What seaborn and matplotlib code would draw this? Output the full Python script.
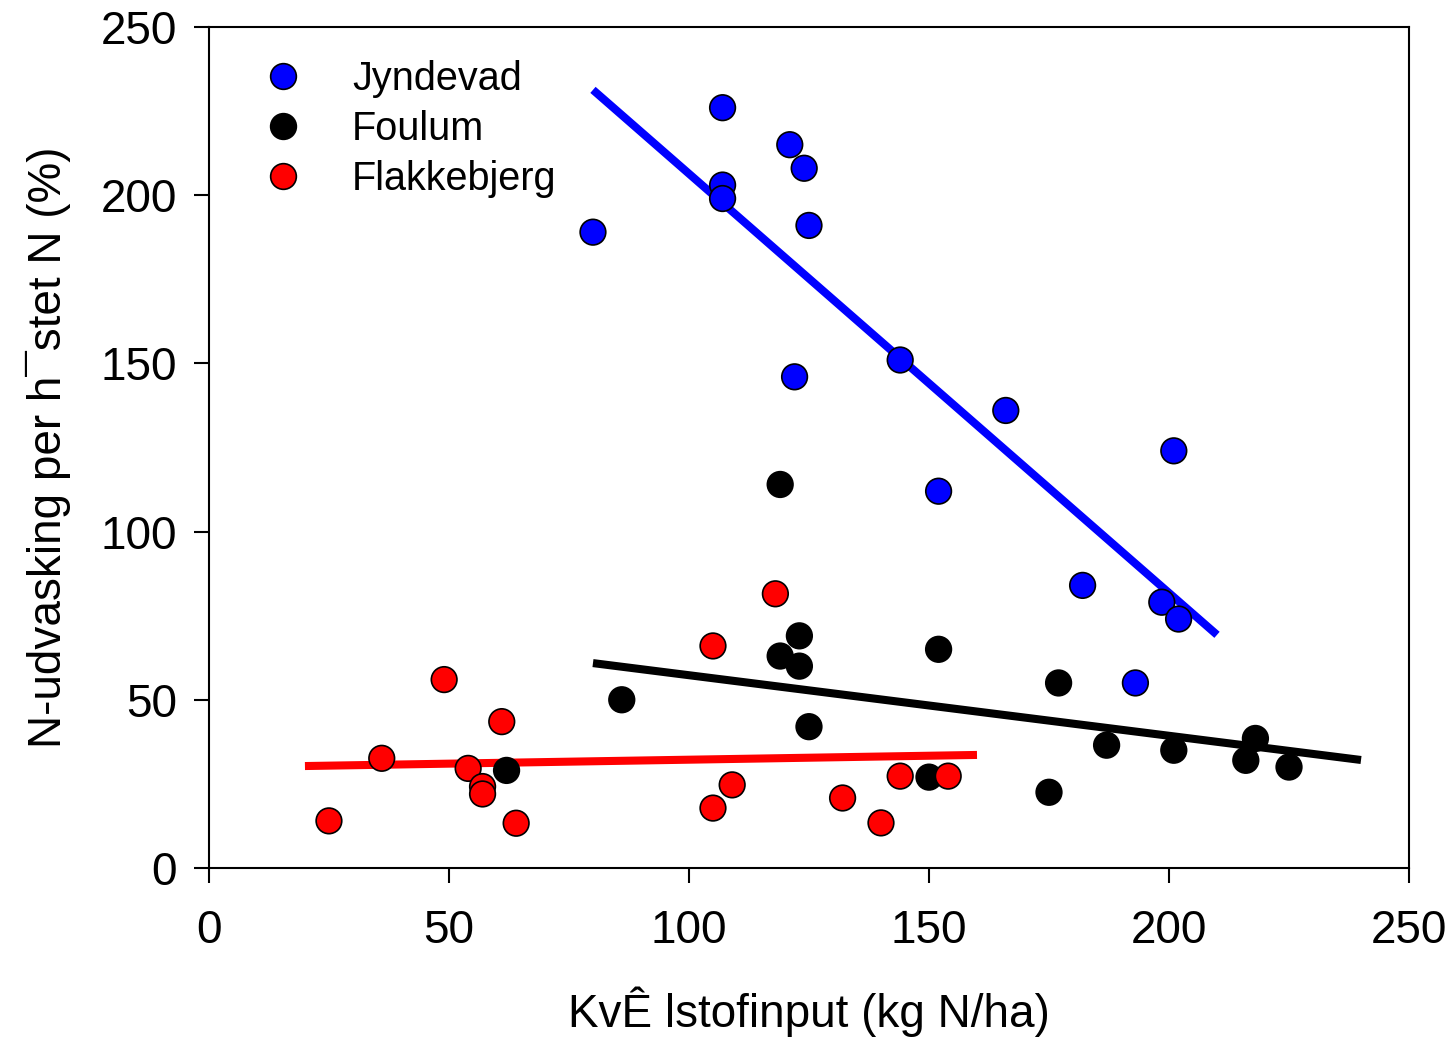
import numpy as np
import pandas as pd
import matplotlib
matplotlib.use("Agg")
import matplotlib.pyplot as plt
import seaborn as sns
from matplotlib.lines import Line2D

# data
sites = ["Jyndevad", "Foulum", "Flakkebjerg"]
site_colors = ["#0000ff", "#000000", "#ff0000"]

jyndevad_x = [80, 107, 107, 107, 121, 124, 125, 122, 144, 166, 152, 201, 182, 198.5, 202, 193]
jyndevad_y = [189, 226, 203, 199, 215, 208, 191, 146, 151, 136, 112, 124, 84, 79, 74, 55]

foulum_x = [119, 119, 123, 123, 125, 86, 62, 152, 150, 175, 177, 187, 201, 218, 216, 225]
foulum_y = [114, 63, 69, 60, 42, 50, 29, 65, 27, 22.5, 55, 36.5, 35, 38.5, 32, 30]

flakke_x = [118, 105, 109, 105, 132, 140, 144, 154, 49, 61, 36, 54, 57, 57, 25, 64]
flakke_y = [81.5, 66, 24.7, 17.8, 20.8, 13.4, 27.3, 27.3, 56, 43.5, 32.6, 29.6, 24.2, 22, 14, 13.3]

# regression lines (start/end)
line_x = [[80, 210], [80, 240], [20, 160]]
line_y = [[231.3, 69.3], [60.9, 32.1], [30.3, 33.6]]

xs = [jyndevad_x, foulum_x, flakke_x]
ys = [jyndevad_y, foulum_y, flakke_y]
df = pd.concat([pd.DataFrame({"x": x, "y": y, "site": s}) for x, y, s in zip(xs, ys, sites)],
               ignore_index=True)
lines = pd.concat([pd.DataFrame({"x": lx, "y": ly, "site": s}) for lx, ly, s in zip(line_x, line_y, sites)],
                  ignore_index=True)

sns.set_style("white")
plt.rcParams["font.family"] = ["Liberation Sans", "DejaVu Sans"]
plt.rcParams["text.color"] = "black"
plt.rcParams["axes.labelcolor"] = "black"
plt.rcParams["xtick.color"] = "black"
plt.rcParams["ytick.color"] = "black"

fig = plt.figure(figsize=(14.55, 10.37), dpi=100)
ax = fig.add_axes([0.1436, 0.163, 0.8248, 0.811])

palette = dict(zip(sites, site_colors))
sns.lineplot(data=lines, x="x", y="y", hue="site", palette=palette, linewidth=5.8,
             legend=False, ax=ax, zorder=2, solid_capstyle="butt")
sns.scatterplot(data=df, x="x", y="y", hue="site", palette=palette, s=340,
                edgecolor="black", linewidth=1.2, legend=False, ax=ax, zorder=3)

ax.set_xlim(0, 250)
ax.set_ylim(0, 250)
ax.set_xticks(np.arange(0, 251, 50))
ax.set_yticks(np.arange(0, 251, 50))
ax.tick_params(axis="both", which="major", labelsize=33, direction="out", length=11,
               width=1.5, top=False, right=False, bottom=True, left=True, pad=12)
ax.tick_params(axis="x", pad=18.5)
for sp in ax.spines.values():
    sp.set_linewidth(1.5)
    sp.set_color("black")

ax.set_xlabel("KvÊ lstofinput (kg N/ha)", fontsize=33, labelpad=24)
ax.set_ylabel("N-udvasking per h¯stet N (%)", fontsize=33, labelpad=21)

handles = [Line2D([], [], marker="o", linestyle="none", markersize=18.5,
                  markerfacecolor=c, markeredgecolor="black", markeredgewidth=1.2)
           for c in site_colors]
ax.legend(handles, sites, loc="upper left", bbox_to_anchor=(0.045, 0.961), frameon=False,
          fontsize=28.5, handlelength=1.0, handletextpad=1.25, labelspacing=0.3,
          borderpad=0, borderaxespad=0)

fig.savefig("out.png", dpi=100)
